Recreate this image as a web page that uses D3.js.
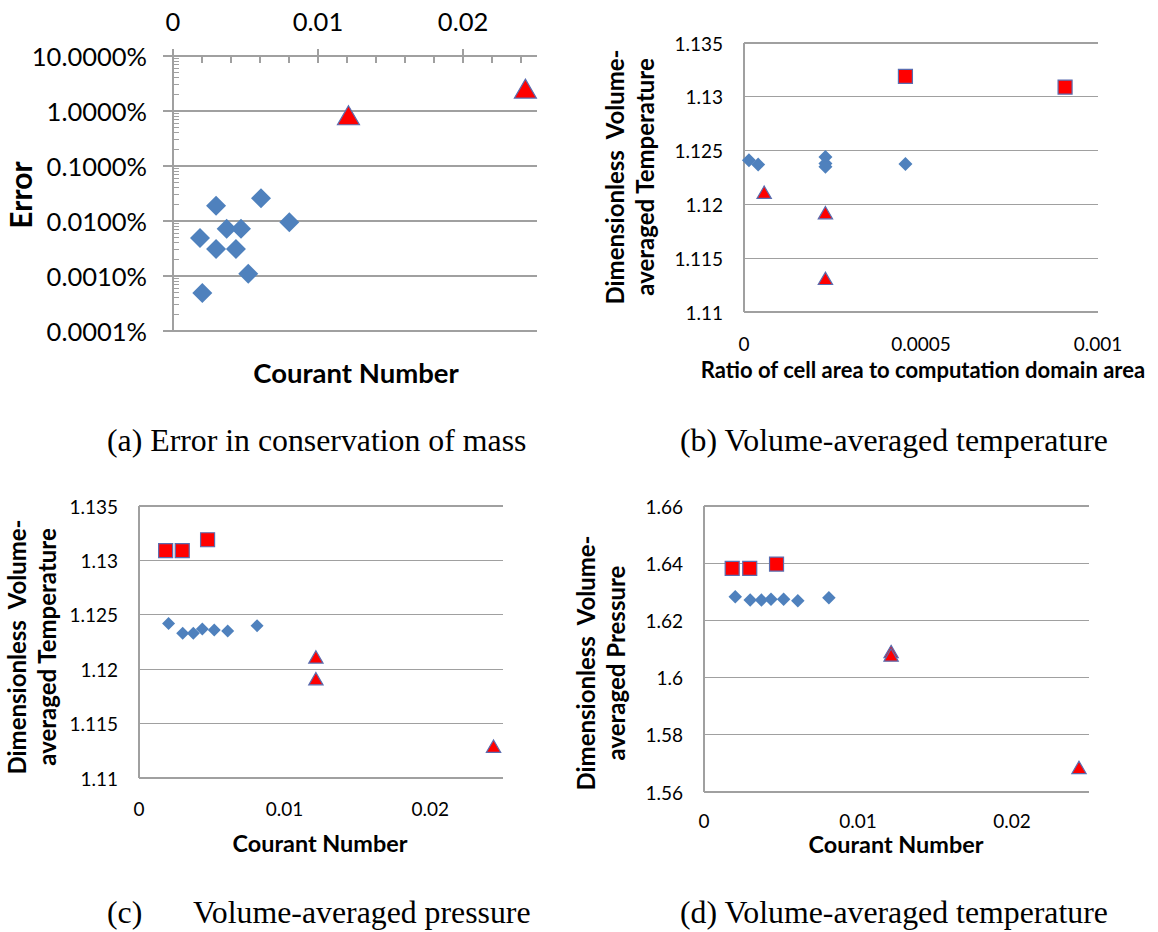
<!DOCTYPE html>
<html>
<head>
<meta charset="utf-8">
<script src="https://cdn.jsdelivr.net/npm/d3@7"></script>
<style>
  body { margin: 0; background: #fff; }
  text { font-family: Lato, "Open Sans", sans-serif; fill: #000; }
  .caption { font-family: "Liberation Serif", "Times New Roman", serif; }
  .pre { white-space: pre; }
</style>
</head>
<body>
<svg id="fig" width="1158" height="932"></svg>
<script>
// ---------- (a) mass-conservation error (%) vs Courant number ----------
const aDiamondX   = [0.00297, 0.00607, 0.0037, 0.00469, 0.00802, 0.00186, 0.00297, 0.00434, 0.00519, 0.00202];
const aDiamondErr = [0.019, 0.026, 0.0072, 0.0072, 0.0095, 0.0049, 0.0031, 0.0031, 0.0011, 0.00049];
const aTriangleX   = [0.0121, 0.0243];
const aTriangleErr = [0.82, 2.5];
const errTicks = [0.0001, 0.001, 0.01, 0.1, 1, 10];
const courantTicks = [0, 0.01, 0.02];

// ---------- (b) temperature vs ratio of cell area to domain area ----------
const bDiamondX = [0.000014, 0.00004, 0.00023, 0.00023, 0.00023, 0.000456];
const bDiamondT = [1.1241, 1.1237, 1.1244, 1.1238, 1.1235, 1.12375];
const bSquareX = [0.000456, 0.000907];
const bSquareT = [1.1319, 1.1309];
const bTriangleX = [0.000057, 0.00023, 0.00023];
const bTriangleT = [1.1211, 1.1192, 1.1131];
const ratioTicks = [0, 0.0005, 0.001];
const tempTicks = [1.11, 1.115, 1.12, 1.125, 1.13, 1.135];

// ---------- (c) temperature and (d) pressure vs Courant number ----------
const cdSquareX   = [0.00183, 0.00297, 0.00471];
const cdDiamondX  = [0.00203, 0.003, 0.00373, 0.00435, 0.00517, 0.00609, 0.00811];
const cdTriangleX = [0.01215, 0.01215, 0.02435];
const cSquareT   = [1.1309, 1.1309, 1.1319];
const cDiamondT  = [1.1242, 1.1233, 1.1233, 1.1237, 1.1236, 1.1235, 1.1240];
const cTriangleT = [1.1211, 1.1191, 1.1129];
const dSquareP   = [1.6382, 1.6382, 1.6397];
const dDiamondP  = [1.6283, 1.6271, 1.6271, 1.6274, 1.6274, 1.6269, 1.6279];
const dTriangleP = [1.6090, 1.6078, 1.5685];
const pressTicks = [1.56, 1.58, 1.60, 1.62, 1.64, 1.66];

const BLUE = "#4F81BD", RED = "#FF0000", EDGE = "#5A6DB0", GRID = "#A0A0A0";
const svg = d3.select("#fig");
const zip = (xs, ys) => xs.map((x, i) => [x, ys[i]]);

// marker shapes centred on (0,0)
const shapes = {
  diamond: s => `M0,${-s/2}L${s/2},0L0,${s/2}L${-s/2},0Z`,
  square:  s => `M${-s/2},${-s/2}h${s}v${s}h${-s}Z`,
  triangle: s => `M0,${-s*0.5}L${s*0.55},${s*0.45}L${-s*0.55},${s*0.45}Z`
};

function marks(g, pts, x, y, kind, size) {
  const isBlue = kind === "diamond";
  g.append("g").selectAll("path").data(pts).join("path")
    .attr("transform", d => `translate(${x(d[0])},${y(d[1])})`)
    .attr("d", shapes[kind](size))
    .attr("fill", isBlue ? BLUE : RED)
    .attr("stroke", isBlue ? "none" : EDGE)
    .attr("stroke-width", 1.2);
}

function hline(g, y0, x0, x1, color) {
  g.append("line").attr("x1", x0).attr("x2", x1).attr("y1", y0).attr("y2", y0)
    .attr("stroke", color || GRID).attr("stroke-width", 1.3).attr("shape-rendering", "crispEdges");
}
function vline(g, x0, y0, y1, color) {
  g.append("line").attr("x1", x0).attr("x2", x0).attr("y1", y0).attr("y2", y1)
    .attr("stroke", color || GRID).attr("stroke-width", 1.3).attr("shape-rendering", "crispEdges");
}

function yTitle(g, lines, cx, cy, size, gap) {
  lines.forEach((t, i) => {
    const x = cx + i * gap;
    g.append("text").attr("class", "pre")
      .attr("transform", `translate(${x},${cy}) rotate(-90)`)
      .attr("text-anchor", "middle").attr("dominant-baseline", "central")
      .style("font-weight", 700).style("font-size", size + "px").text(t);
  });
}

// ---------- panel (a): log error axis, Courant axis on top ----------
(function () {
  const g = svg.append("g");
  const x = d3.scaleLinear([0, 0.0251], [173, 537]);
  const y = d3.scaleLog([0.0001, 10], [331, 56]);
  const fmt = v => d3.format(".4f")(v) + "%";

  errTicks.forEach(v => hline(g, y(v), x.range()[0] - 10, x.range()[1]));
  // minor log ticks inside the axis
  errTicks.slice(0, -1).forEach(d => {
    d3.range(2, 10).forEach(k => {
      g.append("line").attr("x1", x(0)).attr("x2", x(0) + 6)
        .attr("y1", y(d * k)).attr("y2", y(d * k))
        .attr("stroke", GRID).attr("stroke-width", 1).attr("shape-rendering", "crispEdges");
    });
  });
  vline(g, x(0), y(10), y(0.0001));
  // top Courant axis: crossing major ticks, inside minor ticks
  courantTicks.forEach(v => vline(g, x(v), y(10) - 7, y(10) + 7));
  d3.range(1, 13).map(i => i * 0.002).filter(v => Math.abs(v % 0.01) > 1e-9 && Math.abs(v % 0.01 - 0.01) > 1e-9)
    .forEach(v => vline(g, x(v), y(10), y(10) + 7));

  g.append("g").selectAll("text").data(errTicks).join("text")
    .attr("x", x(0) - 26).attr("y", d => y(d)).attr("text-anchor", "end")
    .attr("dominant-baseline", "central").style("font-size", "25.5px").text(fmt);
  g.append("g").selectAll("text").data(courantTicks).join("text")
    .attr("x", d => x(d)).attr("y", 21).attr("text-anchor", "middle")
    .attr("dominant-baseline", "central").style("font-size", "25.5px").text(d => d3.format("")(d));

  yTitle(g, ["Error"], 20, 195, 30, 0);
  g.append("text").attr("x", 356).attr("y", 372).attr("text-anchor", "middle")
    .attr("dominant-baseline", "central").style("font-weight", 700).style("font-size", "27.5px")
    .text("Courant Number");

  marks(g, zip(aDiamondX, aDiamondErr), x, y, "diamond", 20);
  marks(g, zip(aTriangleX, aTriangleErr), x, y, "triangle", 20);
})();

// ---------- generic linear panel ----------
function linearPanel(o) {
  const g = svg.append("g");
  const x = d3.scaleLinear(o.xDomain, o.xRange);
  const y = d3.scaleLinear(d3.extent(o.yTicks), o.yRange);
  o.yTicks.forEach(v => hline(g, y(v), o.xRange[0], o.xRange[1]));
  vline(g, o.xRange[0], o.yRange[1], o.yRange[0]);

  g.append("g").selectAll("text").data(o.yTicks).join("text")
    .attr("x", o.xRange[0] - 21).attr("y", d => y(d)).attr("text-anchor", "end")
    .attr("dominant-baseline", "central").style("font-size", "19px").text(d => d3.format("")(+d.toFixed(4)));
  g.append("g").selectAll("text").data(o.xTicks).join("text")
    .attr("x", d => x(d)).attr("y", o.yRange[0] + o.xLabelOffset).attr("text-anchor", "middle")
    .attr("dominant-baseline", "central").style("font-size", "19px").text(d => d3.format("")(d));

  yTitle(g, o.yTitle, o.yTitleX, o.yTitleY, o.yTitleSize, 30);
  g.append("text").attr("x", o.xTitleX).attr("y", o.xTitleY).attr("text-anchor", "middle")
    .attr("dominant-baseline", "central").style("font-weight", 700)
    .style("font-size", o.xTitleSize + "px").text(o.xTitle);

  o.series.forEach(s => marks(g, zip(s.x, s.y), x, y, s.kind, s.size));
}

linearPanel({
  xDomain: [0, 0.001], xRange: [744, 1098], yRange: [312, 43], yTicks: tempTicks,
  xTicks: ratioTicks, xLabelOffset: 31,
  yTitle: ["Dimensionless  Volume-", "averaged Temperature"], yTitleX: 614, yTitleY: 177, yTitleSize: 24,
  xTitle: "Ratio of cell area to computation domain area", xTitleX: 923, xTitleY: 369, xTitleSize: 22,
  series: [
    { x: bDiamondX, y: bDiamondT, kind: "diamond", size: 14 },
    { x: bSquareX, y: bSquareT, kind: "square", size: 14 },
    { x: bTriangleX, y: bTriangleT, kind: "triangle", size: 13 }
  ]
});

linearPanel({
  xDomain: [0, 0.025], xRange: [139, 503], yRange: [778, 506], yTicks: tempTicks,
  xTicks: courantTicks, xLabelOffset: 30,
  yTitle: ["Dimensionless  Volume-", "averaged Temperature"], yTitleX: 16, yTitleY: 647, yTitleSize: 24,
  xTitle: "Courant Number", xTitleX: 320, xTitleY: 843, xTitleSize: 23.4,
  series: [
    { x: cdDiamondX, y: cDiamondT, kind: "diamond", size: 13 },
    { x: cdSquareX, y: cSquareT, kind: "square", size: 14 },
    { x: cdTriangleX, y: cTriangleT, kind: "triangle", size: 13 }
  ]
});

linearPanel({
  xDomain: [0, 0.025], xRange: [704, 1089], yRange: [792, 506], yTicks: pressTicks,
  xTicks: courantTicks, xLabelOffset: 28,
  yTitle: ["Dimensionless  Volume-", "averaged Pressure"], yTitleX: 585, yTitleY: 663, yTitleSize: 24,
  xTitle: "Courant Number", xTitleX: 896, xTitleY: 844, xTitleSize: 23.4,
  series: [
    { x: cdDiamondX, y: dDiamondP, kind: "diamond", size: 13.5 },
    { x: cdSquareX, y: dSquareP, kind: "square", size: 14 },
    { x: cdTriangleX, y: dTriangleP, kind: "triangle", size: 13 }
  ]
});

// ---------- sub-figure captions ----------
const captions = [
  { y: 440, parts: [["(a) Error in conservation of mass", 107]] },
  { y: 440, parts: [["(b) Volume-averaged temperature", 680]] },
  { y: 912, parts: [["(c)", 107], ["Volume-averaged pressure", 193]] },
  { y: 912, parts: [["(d) Volume-averaged temperature", 680]] }
];
captions.forEach(c => {
  const t = svg.append("text").attr("class", "caption").attr("y", c.y)
    .attr("dominant-baseline", "central").style("font-size", "31.8px");
  c.parts.forEach(p => t.append("tspan").attr("x", p[1]).text(p[0]));
});
</script>
</body>
</html>
